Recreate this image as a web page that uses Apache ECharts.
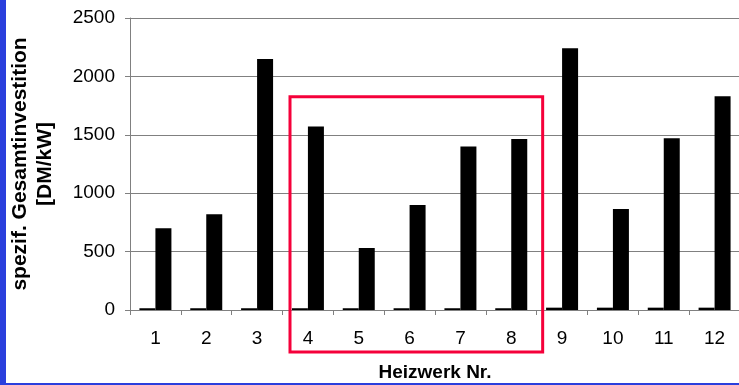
<!DOCTYPE html>
<html>
<head>
<meta charset="utf-8">
<script src="https://cdn.jsdelivr.net/npm/echarts@6/dist/echarts.min.js"></script>
<style>
html,body{margin:0;padding:0;background:#fff;}
#chart{width:739px;height:385px;}
</style>
</head>
<body>
<div id="chart"></div>
<script>
var categories = ['1','2','3','4','5','6','7','8','9','10','11','12'];
var smallValues = [15, 15, 15, 15, 15, 15, 15, 15, 20, 20, 20, 20];
var mainValues = [700, 820, 2150, 1570, 530, 900, 1400, 1465, 2240, 865, 1470, 1830];
var yTicks = [0, 500, 1000, 1500, 2000, 2500];
var yAxisTitle = 'spezif. Gesamtinvestition\n[DM/kW]';
var xAxisTitle = 'Heizwerk Nr.';
var highlightFrom = '4';
var highlightTo = '8';
var highlightTopValue = 1825;

(function () {
  var FONT = '"Liberation Sans", Arial, sans-serif';
  var chart = echarts.init(document.getElementById('chart'), null, {renderer: 'canvas'});

  var option = {
    animation: false,
    backgroundColor: '#ffffff',
    grid: {left: 130, top: 18, width: 610, height: 292, containLabel: false, outerBoundsMode: 'none'},
    xAxis: {
      type: 'category',
      data: categories,
      boundaryGap: true,
      name: xAxisTitle,
      nameLocation: 'middle',
      nameGap: 53,
      nameTextStyle: {fontFamily: FONT, fontSize: 19, fontWeight: 'bold', color: '#000'},
      axisLine: {lineStyle: {color: '#808080', width: 1}},
      axisTick: {show: true, length: 5, alignWithLabel: false, lineStyle: {color: '#808080'}},
      axisLabel: {fontFamily: FONT, fontSize: 19, color: '#000', margin: 19}
    },
    yAxis: {
      type: 'value',
      min: yTicks[0],
      max: yTicks[yTicks.length - 1],
      interval: 500,
      name: yAxisTitle,
      nameLocation: 'middle',
      nameGap: 72,
      nameTextStyle: {fontFamily: FONT, fontSize: 21, fontWeight: 'bold', color: '#000', lineHeight: 25, align: 'center'},
      axisLine: {show: true, lineStyle: {color: '#808080', width: 1}},
      axisTick: {show: true, length: 5, lineStyle: {color: '#808080'}},
      axisLabel: {fontFamily: FONT, fontSize: 19, color: '#000', margin: 15,
        formatter: function (v) { return String(v); }},
      splitLine: {show: true, lineStyle: {color: '#808080', width: 1}}
    },
    series: [
      {type: 'bar', data: smallValues, barWidth: 16, barGap: '0%', itemStyle: {color: '#000'}},
      {type: 'bar', data: mainValues, barWidth: 16, barGap: '0%', itemStyle: {color: '#000'}}
    ]
  };
  chart.setOption(option);

  var i0 = categories.indexOf(highlightFrom), i1 = categories.indexOf(highlightTo);
  var c0 = chart.convertToPixel({xAxisIndex: 0}, i0);
  var c1 = chart.convertToPixel({xAxisIndex: 0}, i1);
  var bandW = chart.convertToPixel({xAxisIndex: 0}, 1) - chart.convertToPixel({xAxisIndex: 0}, 0);
  var fx0 = c0 - bandW / 2 + 7.5;
  var fx1 = c1 + bandW / 2 + 6;
  var fy0 = chart.convertToPixel({yAxisIndex: 0}, highlightTopValue);
  var fy1 = 352;

  chart.setOption({
    graphic: [
      {type: 'rect', shape: {x: fx0, y: fy0, width: fx1 - fx0, height: fy1 - fy0},
       style: {fill: 'none', stroke: '#f5003a', lineWidth: 3}, z: 100},
      {type: 'rect', shape: {x: 0, y: 0, width: 6, height: 385}, style: {fill: '#2a3fdd'}, z: 100},
      {type: 'rect', shape: {x: 0, y: 383, width: 739, height: 2}, style: {fill: '#2a3fdd'}, z: 100}
    ]
  });
})();
</script>
</body>
</html>
